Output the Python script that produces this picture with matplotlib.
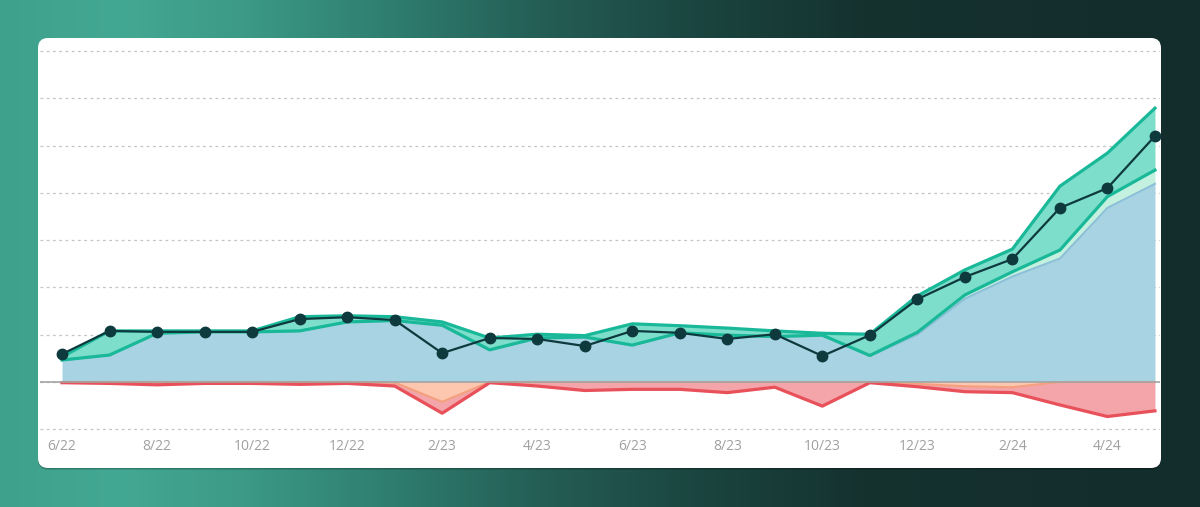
import matplotlib
matplotlib.use("Agg")
import matplotlib.pyplot as plt
import numpy as np
from matplotlib.colors import LinearSegmentedColormap
from matplotlib.patches import FancyBboxPatch

#===============================================
# Datos (unidades = 1/10 de linea de rejilla)
#===============================================
meses = ['6/22', '7/22', '8/22', '9/22', '10/22', '11/22', '12/22', '1/23',
         '2/23', '3/23', '4/23', '5/23', '6/23', '7/23', '8/23', '9/23',
         '10/23', '11/23', '12/23', '1/24', '2/24', '3/24', '4/24', '5/24']

# serie base (azul)
azul = [4.65, 5.7, 10.3, 10.6, 10.6, 10.8, 12.7, 13.0,
        12.0, 6.8, 9.3, 9.5, 7.8, 10.4, 9.9, 9.6,
        9.9, 5.5, 10.0, 17.6, 22.3, 26.1, 36.8, 41.9]

# franja menta fina
menta = [0, 0, 0, 0, 0, 0, 0, 0,
         0, 0, 0, 0, 0, 0, 0, 0,
         0, 0.1, 0.5, 0.8, 1.0, 1.8, 2.4, 2.9]

# franja verde azulado (arriba)
turquesa = [0.65, 5.1, 0.5, 0.2, 0.2, 3.0, 1.3, 0.8,
            0.7, 2.5, 0.8, 0.3, 4.5, 1.5, 1.5, 1.2,
            0.4, 4.5, 7.7, 5.3, 4.8, 13.5, 9.2, 13.1]

# negativos
naranja = [0, 0, 0, 0, 0, 0, 0, 0.1,
           4.2, 0, 0, 0, 0, 0, 0, 0,
           0, 0, 0.4, 0.9, 1.1, 0, 0, 0]

rojo = [0.15, 0.3, 0.6, 0.3, 0.3, 0.5, 0.3, 0.75,
        2.4, 0.15, 0.85, 1.8, 1.55, 1.55, 2.25, 1.1,
        5.1, 0.15, 0.6, 1.15, 1.15, 4.85, 7.3, 6.1]

# linea neta (puntos oscuros)
neto = [5.9, 10.8, 10.6, 10.6, 10.6, 13.3, 13.7, 13.1,
        6.1, 9.3, 9.1, 7.6, 10.8, 10.4, 9.1, 10.1,
        5.5, 9.9, 17.5, 22.2, 26.0, 36.8, 41.0, 52.0]

# Colores
C_AZUL, C_AZUL_BORDE = '#a7d3e3', '#8cbfd8'
C_MENTA, C_MENTA_BORDE = '#c4f1df', '#92e6c9'
C_TURQ, C_TURQ_BORDE = '#7ddecb', '#19b899'
C_NAR, C_NAR_BORDE = '#fdc6ae', '#f49f7e'
C_ROJO, C_ROJO_BORDE = '#f3a5aa', '#e8505a'
C_NETO = '#0e3a3e'

W, H = 1200, 507
fig = plt.figure(figsize=(W / 100, H / 100), dpi=100)

# Fondo con degradado + tarjeta blanca
ax_bg = fig.add_axes([0, 0, 1, 1])
ax_bg.set_xlim(0, W)
ax_bg.set_ylim(H, 0)
ax_bg.axis('off')
cmap_bg = LinearSegmentedColormap.from_list('fondo', [
    (0.0, '#3ea18c'), (0.1, '#43a893'), (0.2, '#3c9a86'), (0.32, '#2f7f70'),
    (0.45, '#245e55'), (0.58, '#1b4540'), (0.72, '#15322f'), (1.0, '#132c2c')])
grad = np.linspace(0, 1, 512)[np.newaxis, :]
ax_bg.imshow(grad, aspect='auto', cmap=cmap_bg, extent=[0, W, H, 0])
sombra = FancyBboxPatch((38, 39.5), 1123, 430, boxstyle='round,pad=0,rounding_size=10',
                        facecolor='#000000', alpha=0.25, edgecolor='none')
ax_bg.add_patch(sombra)
card = FancyBboxPatch((38, 38), 1123, 430, boxstyle='round,pad=0,rounding_size=10',
                      facecolor='white', edgecolor='none')
ax_bg.add_patch(card)

# Eje principal
ax = fig.add_axes([40 / W, (H - 432) / H, 1120 / W, (432 - 40) / H])
ax.patch.set_alpha(0)

x = np.arange(len(meses))
azul = np.array(azul)
menta = np.array(menta)
turquesa = np.array(turquesa)
naranja = np.array(naranja)
rojo = np.array(rojo)

y1 = azul
y2 = y1 + menta
y3 = y2 + turquesa
n1 = -naranja
n2 = n1 - rojo

# Areas positivas
ax.fill_between(x, 0, y1, color=C_AZUL, lw=0, zorder=2)
ax.plot(x, y1, color=C_AZUL_BORDE, lw=1.5, zorder=3)
ax.fill_between(x, y1, y2, color=C_MENTA, lw=0, zorder=2)
ax.plot(x, y2, color=C_MENTA_BORDE, lw=1.2, zorder=3)
ax.fill_between(x, y2, y3, color=C_TURQ, lw=0, zorder=2)
ax.plot(x, y2, color=C_TURQ_BORDE, lw=2.3, zorder=4)
ax.plot(x, y3, color=C_TURQ_BORDE, lw=2.3, zorder=4)

# Areas negativas
ax.fill_between(x, 0, n1, color=C_NAR, lw=0, zorder=2)
ax.plot(x, n1, color=C_NAR_BORDE, lw=1.5, zorder=3)
ax.fill_between(x, n1, n2, color=C_ROJO, lw=0, zorder=2)
ax.plot(x, n2, color=C_ROJO_BORDE, lw=2.3, zorder=4)

# Linea base
ax.axhline(0, color='#a3a3a3', lw=1.2, zorder=5)

# Linea neta con puntos
ax.plot(x, neto, color=C_NETO, lw=1.6, marker='o', markersize=7.5, zorder=6)

# Rejilla
ax.set_yticks(np.arange(-10, 71, 10))
ax.yaxis.grid(True, color='#c4c4c4', lw=0.9, linestyle=(0, (2.2, 2.8)), zorder=1)
ax.set_axisbelow(True)

ax.set_xlim((40 - 62) / 47.52, (1160 - 62) / 47.52)
ax.set_ylim((382 - 432) / 4.73, (382 - 40) / 4.73)

ax.set_xticks(x[::2])
ax.set_xticklabels(meses[::2], family=['Open Sans', 'DejaVu Sans'], fontsize=10, color='#a0a0a0')
ax.tick_params(axis='x', length=0, pad=5)
ax.tick_params(axis='y', length=0, labelleft=False)
for s in ax.spines.values():
    s.set_visible(False)

plt.savefig('out.png', dpi=100)
plt.close()
